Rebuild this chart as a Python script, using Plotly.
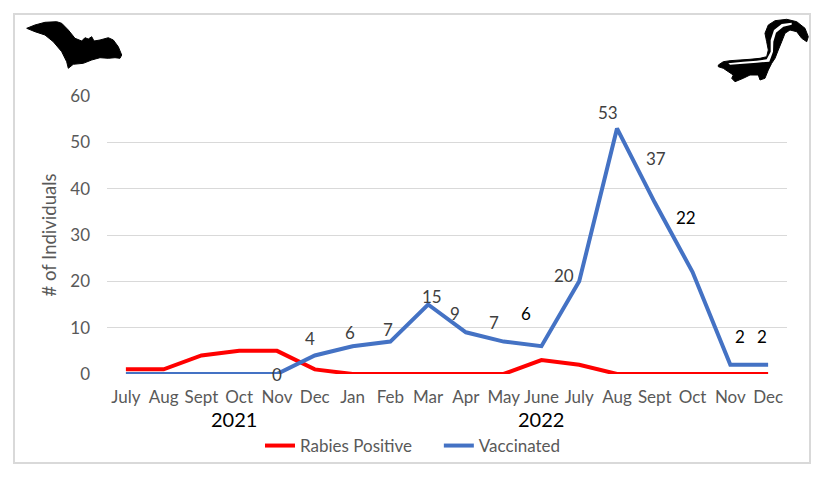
import plotly.graph_objects as go

months = ["July", "Aug", "Sept", "Oct", "Nov", "Dec", "Jan", "Feb", "Mar", "Apr",
          "May", "June", "July", "Aug", "Sept", "Oct", "Nov", "Dec"]
years = ["2021", "2022"]
rabies_positive = [1, 1, 4, 5, 5, 1, 0, 0, 0, 0, 0, 3, 2, 0, 0, 0, 0, 0]
vaccinated = [0, 0, 0, 0, 0, 4, 6, 7, 15, 9, 7, 6, 20, 53, 37, 22, 2, 2]

# which vaccinated points carry a label, and where Excel had them nudged to (px)
label_idx = [4, 5, 6, 7, 8, 9, 10, 11, 12, 13, 14, 15, 16, 17]
label_dx = [0, -5, -3, -2, 4, -11, -10, -15, -15, -9, 1, -7, 10, -6]
label_dy = [0, 17, 14, 12, 8, 19, 19, 33, 6, 16, 44, 55, 28, 28]
label_col = ["#404040"] * 7 + ["#000000", "#404040", "#404040", "#404040", "#000000", "#000000", "#000000"]

# page body has an 8px margin, so everything is laid out in screen px minus OFF
OFF = 8
W, H = 825 - 2 * OFF, 478 - 2 * OFF
L, R, T, B = 107, 787, 96, 374   # plot area in screen px


def px(x, y):
    return (x - L) / (R - L), (B - y) / (B - T)


def path(pts):
    s = ""
    for i, (x, y) in enumerate(pts):
        a, b = px(x, y)
        s += ("M" if i == 0 else "L") + f"{a:.4f},{b:.4f} "
    return s + "Z"


x = list(range(len(months)))

fig = go.Figure()
fig.add_trace(go.Scatter(x=x, y=rabies_positive, mode="lines",
                         name="Rabies Positive" + "\u00a0" * 5,
                         line=dict(color="#ff0000", width=4)))
fig.add_trace(go.Scatter(x=x, y=vaccinated, mode="lines", name="Vaccinated",
                         line=dict(color="#4472c4", width=4)))

for i, dx, dy, c in zip(label_idx, label_dx, label_dy, label_col):
    fig.add_annotation(x=i, y=vaccinated[i], text=str(vaccinated[i]), showarrow=False,
                       xshift=dx, yshift=dy, font=dict(size=17, color=c))

# year labels under the month axis
for xi, yr in zip([2.85, 11], years):
    fig.add_annotation(x=xi, y=0, yref="paper", yanchor="middle", yshift=-45, text=yr,
                       showarrow=False, font=dict(size=20, color="#000000"))

# outer chart border
x0, y0 = px(14, 14)
x1, y1 = px(810, 463)
fig.add_shape(type="rect", xref="paper", yref="paper", x0=x0, y0=y1, x1=x1, y1=y0,
              line=dict(color="#d9d9d9", width=2), layer="below")

# bat
bat = [(26.7, 28.3), (35, 25), (45, 22.3), (56.7, 21.7), (61.7, 23.3), (68.3, 30),
       (75, 38.3), (81.7, 41), (85, 37.7), (88.3, 39), (91.7, 36.7), (94, 41), (100, 40),
       (108.3, 37.7), (113.3, 40), (118.3, 46.7), (121.7, 55), (120, 58.3), (115, 57.7),
       (108.3, 58.3), (100, 57.7), (91.7, 60), (83.3, 63.3), (73.3, 64.3), (68.3, 68.3),
       (66.7, 61.7), (61.7, 51.7), (53.3, 41.7), (45, 35), (35, 31.7)]
fig.add_shape(type="path", xref="paper", yref="paper", path=path(bat),
              fillcolor="#000000", line=dict(color="#000000", width=1))

# skunk
skunk = [(718.3, 65), (723.3, 61.7), (730, 60.7), (740, 60), (750, 59.3), (760, 58.3),
         (766.7, 56.7), (768.3, 50), (766.7, 41.7), (765, 33.3), (768.3, 25), (775, 20.7),
         (786.7, 19.3), (796.7, 21.7), (805, 28.3), (808.3, 36.7), (806.7, 41.7),
         (801.7, 38.3), (796.7, 31.7), (790, 30), (785, 33.3), (781.7, 41.7), (778.3, 50),
         (775, 58.3), (771.7, 63.3), (768.3, 70), (765, 78.3), (760, 80), (758.3, 75),
         (750, 75), (743.3, 78.3), (735, 81.7), (731.7, 78.3), (733.3, 75), (728.3, 71.7),
         (723.3, 68.3), (718.3, 66.7)]
fig.add_shape(type="path", xref="paper", yref="paper", path=path(skunk),
              fillcolor="#000000", line=dict(color="#000000", width=1))
stripe = [(728.3, 63.3), (743.3, 61.7), (756.7, 60.7), (766.7, 59.3), (770.7, 51.7),
          (770.7, 40), (774, 30), (781.7, 24), (791.7, 22.7), (791.7, 24.7), (783.3, 26.7),
          (776, 32.7), (773.3, 41.7), (773, 51.7), (769.3, 61.7), (756.7, 62.7),
          (743.3, 63.7), (730, 64.7)]
fig.add_shape(type="path", xref="paper", yref="paper", path=path(stripe),
              fillcolor="#ffffff", line=dict(color="#ffffff", width=0))

fig.update_layout(
    width=W, height=H,
    margin=dict(l=L - OFF, r=W + OFF - R, t=T - OFF, b=H + OFF - B, autoexpand=False),
    paper_bgcolor="white", plot_bgcolor="white",
    font=dict(family="Lato", color="#595959"),
    showlegend=True,
    legend=dict(orientation="h", x=0.45, xanchor="center", y=-0.259, yanchor="middle",
                bgcolor="rgba(0,0,0,0)", font=dict(size=17, color="#595959")),
    xaxis=dict(range=[-0.5, 17.5], tickmode="array", tickvals=x, ticktext=months,
               showgrid=False, zeroline=False, showline=False,
               tickfont=dict(size=17, color="#595959"), ticklabelstandoff=11),
    yaxis=dict(range=[0, 60], dtick=10, showgrid=True, gridcolor="#d9d9d9", gridwidth=1,
               zeroline=False, showline=False,
               tickfont=dict(size=17, color="#595959"), ticklabelstandoff=16,
               title=dict(text="# of Individuals", font=dict(size=18.5, color="#595959"),
                          standoff=8)),
)

fig.write_html("out.html")
